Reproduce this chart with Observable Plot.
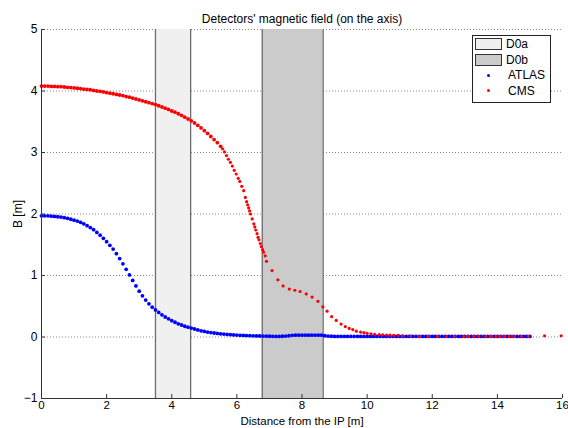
<!DOCTYPE html>
<html><head><meta charset="utf-8">
<script src="https://cdn.jsdelivr.net/npm/d3@7"></script>
<script src="https://cdn.jsdelivr.net/npm/@observablehq/plot@0.6"></script>
<style>
body{margin:0;background:#fff;font-family:"Liberation Sans",Arial,sans-serif;}
#wrap{position:relative;width:568px;height:428px;}
#legend{position:absolute;left:472px;top:35px;width:79px;height:68px;border:1px solid #222;background:#fff;font-size:12px;color:#000;box-sizing:border-box;}
.row{position:absolute;left:2px;height:14px;display:flex;align-items:center;}
.sw{width:27px;height:12px;border:1px solid #333;box-sizing:border-box;display:flex;align-items:center;justify-content:center;}
.lab{margin-left:4px;}
.dot{width:3px;height:3px;border-radius:50%;}
</style>
</head><body>
<div id="wrap"></div>
<script>
const title = "Detectors' magnetic field (on the axis)";
const xLabel = "Distance from the IP [m]";
const yLabel = "B [m]";
const xTicks = [0, 2, 4, 6, 8, 10, 12, 14, 16];
const yTicks = [-1, 0, 1, 2, 3, 4, 5];
const gridValues = [0, 1, 2, 3, 4, 5];

// detector regions
const regionNames = ["D0a", "D0b"];
const regionStart = [3.5, 6.78];
const regionEnd = [4.58, 8.65];
const regionFill = ["#f0f0f0", "#cbcbcb"];

const seriesNames = ["ATLAS", "CMS"];
const seriesColors = ["#0000ff", "#ff0000"];

// ATLAS: sampled every 0.1 m from 0 to 15
const atlasStep = 0.1;
const atlasB = [
1.97,1.97,1.97,1.965,1.96,1.955,1.95,1.94,1.93,1.915,
1.90,1.885,1.865,1.84,1.81,1.78,1.745,1.70,1.655,1.605,
1.55,1.49,1.43,1.355,1.275,1.19,1.10,1.01,0.92,0.83,
0.745,0.67,0.60,0.54,0.485,0.44,0.40,0.36,0.325,0.295,
0.265,0.24,0.215,0.195,0.175,0.16,0.145,0.13,0.115,0.10,
0.09,0.08,0.072,0.065,0.058,0.052,0.047,0.042,0.038,0.034,
0.031,0.028,0.025,0.023,0.021,0.019,0.017,0.016,0.015,0.013,
0.012,0.011,0.010,0.010,0.012,0.015,0.02,0.028,0.03,0.03,
0.03,0.03,0.03,0.03,0.03,0.03,0.03,0.02,0.015,0.012,
0.01,0.01,0.01,0.01,0.01,0.01,0.01,0.01,0.01,0.01,
0.01,0.01,0.01,0.01,0.01,0.01,0.01,0.01,0.01,0.01,
0.01,0.01,0.01,0.01,0.01,0.01,0.01,0.01,0.01,0.01,
0.01,0.01,0.01,0.01,0.01,0.01,0.01,0.01,0.01,0.01,
0.01,0.01,0.01,0.01,0.01,0.01,0.01,0.01,0.01,0.01,
0.01,0.01,0.01,0.01,0.01,0.01,0.01,0.01,0.01,0.01,
0.01
];

// CMS
const cmsX = [
0.0,0.1,0.2,0.3,0.4,0.5,0.6,0.7,0.8,0.9,
1.0,1.1,1.2,1.3,1.4,1.5,1.6,1.7,1.8,1.9,
2.0,2.1,2.2,2.3,2.4,2.5,2.6,2.7,2.8,2.9,
3.0,3.1,3.2,3.3,3.4,3.5,3.6,3.7,3.8,3.9,
4.0,4.1,4.2,4.3,4.4,4.5,4.6,4.7,4.8,4.9,
5.0,5.1,5.2,5.3,5.4,5.5,
5.56,5.62,5.68,5.74,5.8,5.86,5.92,5.98,6.04,6.09,6.15,6.21,
6.26,6.3,6.33,6.36,6.39,6.42,6.47,6.52,6.55,6.58,
6.62,6.65,6.68,6.72,6.75,6.79,6.82,6.87,6.91,7.08,
7.26,7.42,7.61,7.78,7.94,8.13,8.31,8.49,8.64,8.77,
8.91,9.05,9.20,9.33,9.45,9.56,9.67,9.80,9.90,10.0,
10.12,10.23,10.37,10.48,10.60,10.70,10.82,10.96,11.08,11.33,
11.61,11.88,12.16,12.43,12.68,12.96,13.1,13.28,13.43,13.64,
13.80,13.95,14.08,14.22,14.37,14.51,14.74,14.95,15.45,15.96
];
const cmsB = [
4.08,4.08,4.08,4.075,4.075,4.07,4.07,4.065,4.06,4.055,
4.05,4.045,4.04,4.03,4.025,4.02,4.01,4.00,3.995,3.985,
3.975,3.965,3.955,3.945,3.935,3.925,3.91,3.90,3.885,3.87,
3.855,3.84,3.825,3.81,3.795,3.78,3.76,3.74,3.72,3.70,
3.675,3.655,3.63,3.605,3.575,3.545,3.515,3.48,3.44,3.40,
3.355,3.31,3.26,3.21,3.16,3.10,
3.06,3.01,2.95,2.89,2.84,2.78,2.71,2.65,2.58,2.53,2.45,2.38,
2.27,2.20,2.15,2.10,2.05,2.00,1.92,1.84,1.79,1.74,
1.68,1.62,1.58,1.52,1.47,1.42,1.38,1.32,1.23,1.08,
0.93,0.83,0.78,0.76,0.74,0.70,0.65,0.58,0.49,0.42,
0.33,0.27,0.21,0.17,0.14,0.12,0.095,0.08,0.07,0.06,
0.05,0.045,0.04,0.035,0.032,0.03,0.028,0.025,0.02,0.015,
0.012,0.012,0.01,0.01,0.012,0.01,0.01,0.01,0.01,0.01,
0.01,0.01,0.01,0.01,0.01,0.01,0.012,0.012,0.02,0.02
];
const cmsDenseCount = 56;

const W = 568, H = 428, mL = 41, mR = 6, mT = 29, mB = 30;
const innerW = W - mL - mR, innerH = H - mT - mB;

const atlas = atlasB.map((b, i) => ({x: +(i * atlasStep).toFixed(2), b}));
const cms = cmsX.map((x, i) => ({x, b: cmsB[i], dense: i < cmsDenseCount}));
const regions = regionNames.map((n, i) => ({n, x1: regionStart[i], x2: regionEnd[i], fill: regionFill[i]}));
const edges = [...regionStart, ...regionEnd];

const font = "'Liberation Sans', Arial, sans-serif";
const chart = Plot.plot({
  width: W, height: H,
  marginLeft: mL, marginRight: mR, marginTop: mT, marginBottom: mB,
  style: {fontFamily: font, fontSize: "12px", color: "#000", background: "#fff"},
  x: {domain: [0, 16]},
  y: {domain: [-1, 5]},
  marks: [
    Plot.gridY(gridValues, {stroke: "#8a8a8a", strokeOpacity: 1, strokeDasharray: "1,2"}),
    Plot.rectX(regions, {x1: "x1", x2: "x2", y1: -1, y2: 5, fill: "fill"}),
    Plot.ruleX(edges, {stroke: "#6e6e6e", strokeWidth: 1.3}),
    Plot.dot(atlas, {x: "x", y: "b", r: 1.9, fill: seriesColors[0], stroke: null}),
    Plot.dot(cms.filter(d => d.dense), {x: "x", y: "b", r: 1.9, fill: seriesColors[1], stroke: null}),
    Plot.dot(cms.filter(d => !d.dense), {x: "x", y: "b", r: 1.6, fill: seriesColors[1], stroke: null}),
    Plot.ruleX([0], {stroke: "#333"}),
    Plot.ruleY([-1], {stroke: "#333"}),
    Plot.tickX(xTicks, {x: d => d, insetTop: innerH - 4, stroke: "#333"}),
    Plot.tickY(yTicks, {y: d => d, insetRight: innerW - 4, stroke: "#333"}),
    Plot.axisX(xTicks, {tickSize: 0, tickPadding: 2, fontSize: 11.5, tickFormat: "d", label: xLabel, labelAnchor: "center", labelOffset: 26, labelArrow: "none"}),
    Plot.axisY(yTicks, {tickSize: 0, tickPadding: 4, fontSize: 12, tickFormat: "d", label: yLabel, labelAnchor: "center", labelOffset: 28, labelArrow: "none"}),
    Plot.text([title], {frameAnchor: "top", dy: -15, fontSize: 12, fill: "#000"})
  ]
});
const wrap = document.getElementById("wrap");
wrap.appendChild(chart);

// legend
const legend = document.createElement("div");
legend.id = "legend";
const entries = [
  ...regionNames.map((n, i) => ({n, kind: "rect", c: regionFill[i]})),
  ...seriesNames.map((n, i) => ({n, kind: "dot", c: seriesColors[i]}))
];
entries.forEach((e, i) => {
  const row = document.createElement("div");
  row.className = "row";
  row.style.top = (1 + i * 15.5) + "px";
  const sw = document.createElement("div");
  sw.className = "sw";
  if (e.kind === "rect") sw.style.background = e.c;
  else {
    sw.style.border = "none";
    const d = document.createElement("div");
    d.className = "dot"; d.style.background = e.c;
    sw.appendChild(d);
  }
  const lab = document.createElement("span");
  lab.className = "lab"; lab.textContent = e.n;
  if (e.kind === "dot") lab.style.marginLeft = "6px";
  row.appendChild(sw); row.appendChild(lab);
  legend.appendChild(row);
});
wrap.appendChild(legend);
</script>
</body></html>
